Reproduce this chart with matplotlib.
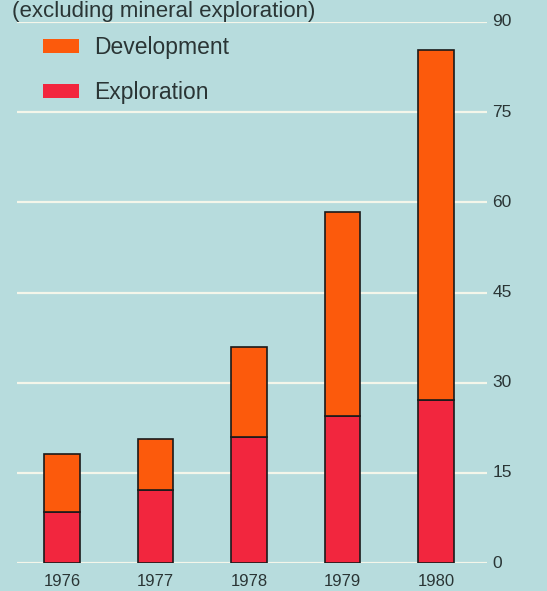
import numpy as np
import matplotlib.pyplot as plt
from matplotlib.patches import Patch

# =====================================================
# DATA
# =====================================================

years = ["1976", "1977", "1978", "1979", "1980"]
exploration = [8.5, 12.1, 21.0, 24.5, 27.1]
development = [9.6, 8.5, 15.0, 33.9, 58.3]
y_ticks = [0, 15, 30, 45, 60, 75, 90]

# =====================================================
# STYLE
# =====================================================

BG = "#b7dcdd"
ORANGE = "#fc5a0c"
RED = "#f2263e"
TEXT = "#2a3535"

plt.rcParams["font.family"] = ["Liberation Sans", "DejaVu Sans"]

fig = plt.figure(figsize=(5.47, 5.91), dpi=100, facecolor=BG)
ax = fig.add_axes([17/547, 1 - 563/591, 470/547, 541/591])
ax.set_facecolor(BG)

x = np.arange(len(years))

ax.bar(x, exploration, width=0.38, color=RED,
       edgecolor="#1a1a1a", linewidth=1.2, zorder=3)
ax.bar(x, development, width=0.38, bottom=exploration, color=ORANGE,
       edgecolor="#1a1a1a", linewidth=1.2, zorder=3)

ax.set_xlim(-0.48, 4.545)
ax.set_ylim(0, 90)

for t in y_ticks:
    ax.axhline(t, color="#f4f6ea", linewidth=1.6, zorder=1)

for s in ax.spines.values():
    s.set_visible(False)

ax.set_xticks([])
ax.set_yticks([])

for t in y_ticks:
    ax.text(4.6, t, str(t), ha="left", va="center",
            fontsize=12.5, color=TEXT)

for i, yr in enumerate(years):
    ax.text(i, -1.9, yr, ha="center", va="top",
            fontsize=12, color=TEXT, clip_on=False)

# legend
handles = [Patch(facecolor=ORANGE, edgecolor="none"),
           Patch(facecolor=RED, edgecolor="none")]
leg = ax.legend(handles, ["Development", "Exploration"],
                loc="upper left", bbox_to_anchor=(0.011, 1.012),
                frameon=False, fontsize=16.5, handlelength=1.57,
                handleheight=0.6, labelspacing=0.95, handletextpad=0.65,
                labelcolor=TEXT)

fig.text(12/547, 1 - 17/591, "(excluding mineral exploration)",
         ha="left", va="baseline", fontsize=16, color=TEXT)

plt.savefig("out.png", dpi=100, facecolor=BG)
